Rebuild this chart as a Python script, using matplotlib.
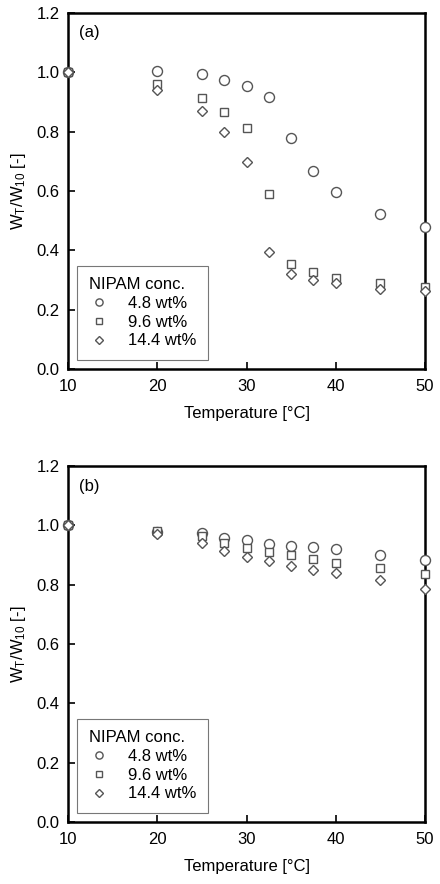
import numpy as np
import matplotlib
matplotlib.use('Agg')
import matplotlib.pyplot as plt

plt.rcParams['font.family'] = ['Liberation Sans', 'DejaVu Sans']
plt.rcParams['mathtext.fontset'] = 'custom'
plt.rcParams['mathtext.rm'] = 'Liberation Sans'
plt.rcParams['mathtext.it'] = 'Liberation Sans'

temps = [10, 20, 25, 27.5, 30, 32.5, 35, 37.5, 40, 45, 50]
labels = ["4.8 wt%", "9.6 wt%", "14.4 wt%"]

# panel (a)
a_48 = [1.0, 1.004, 0.995, 0.974, 0.954, 0.918, 0.779, 0.667, 0.597, 0.521, 0.480]
a_96 = [1.0, 0.959, 0.912, 0.865, 0.813, 0.591, 0.355, 0.326, 0.308, 0.291, 0.275]
a_144 = [1.0, 0.940, 0.870, 0.798, 0.698, 0.393, 0.321, 0.300, 0.290, 0.271, 0.263]

# panel (b)
b_48 = [1.0, 0.978, 0.975, 0.956, 0.950, 0.938, 0.930, 0.928, 0.919, 0.899, 0.883]
b_96 = [1.0, 0.980, 0.964, 0.942, 0.925, 0.911, 0.901, 0.885, 0.874, 0.855, 0.835]
b_144 = [1.0, 0.971, 0.942, 0.915, 0.894, 0.880, 0.863, 0.849, 0.838, 0.815, 0.787]

markers = ['o', 's', 'D']
sizes = [7.2, 6.3, 5.6]
edge = '#555555'
fs = 12

fig = plt.figure(figsize=(4.40, 8.84), dpi=100)
ax_a = fig.add_axes([0.1545, 0.5826, 0.8115, 0.4027])
ax_b = fig.add_axes([0.1545, 0.0701, 0.8115, 0.4027])


def draw(ax, series, tag):
    for ys, m, ms, lab in zip(series, markers, sizes, labels):
        ax.plot(temps, ys, linestyle='none', marker=m, markersize=ms,
                markerfacecolor='white', markeredgecolor=edge, markeredgewidth=1.0,
                clip_on=False, zorder=3, label=lab)
    ax.set_xlim(10, 50)
    ax.set_ylim(0, 1.2)
    ax.set_xticks([10, 20, 30, 40, 50])
    ax.set_yticks(np.arange(0, 1.21, 0.2))
    ax.yaxis.set_major_formatter(matplotlib.ticker.FormatStrFormatter('%.1f'))
    ax.tick_params(direction='in', length=5, width=1.2, labelsize=fs, colors='black', pad=6)
    ax.tick_params(axis='x', pad=7)
    for s in ax.spines.values():
        s.set_linewidth(1.8)
    ax.set_xlabel("Temperature [°C]", fontsize=fs, labelpad=9)
    ax.set_ylabel("W$_T$/W$_{10}$ [-]", fontsize=fs, labelpad=6)
    ax.text(0.03, 0.965, tag, transform=ax.transAxes, fontsize=fs, va='top', ha='left')
    leg = ax.legend(title="NIPAM conc.", loc='lower left', bbox_to_anchor=(0.025, 0.025),
                    borderaxespad=0, fontsize=fs, title_fontsize=fs, frameon=True,
                    fancybox=False, edgecolor='#555555', handletextpad=1.16,
                    labelspacing=0.22, borderpad=0.7, handlelength=1.2,
                    markerscale=0.72)
    leg.get_frame().set_linewidth(0.8)
    leg._legend_box.align = 'left'


draw(ax_a, [a_48, a_96, a_144], "(a)")
draw(ax_b, [b_48, b_96, b_144], "(b)")

fig.savefig("out.png", dpi=100)
